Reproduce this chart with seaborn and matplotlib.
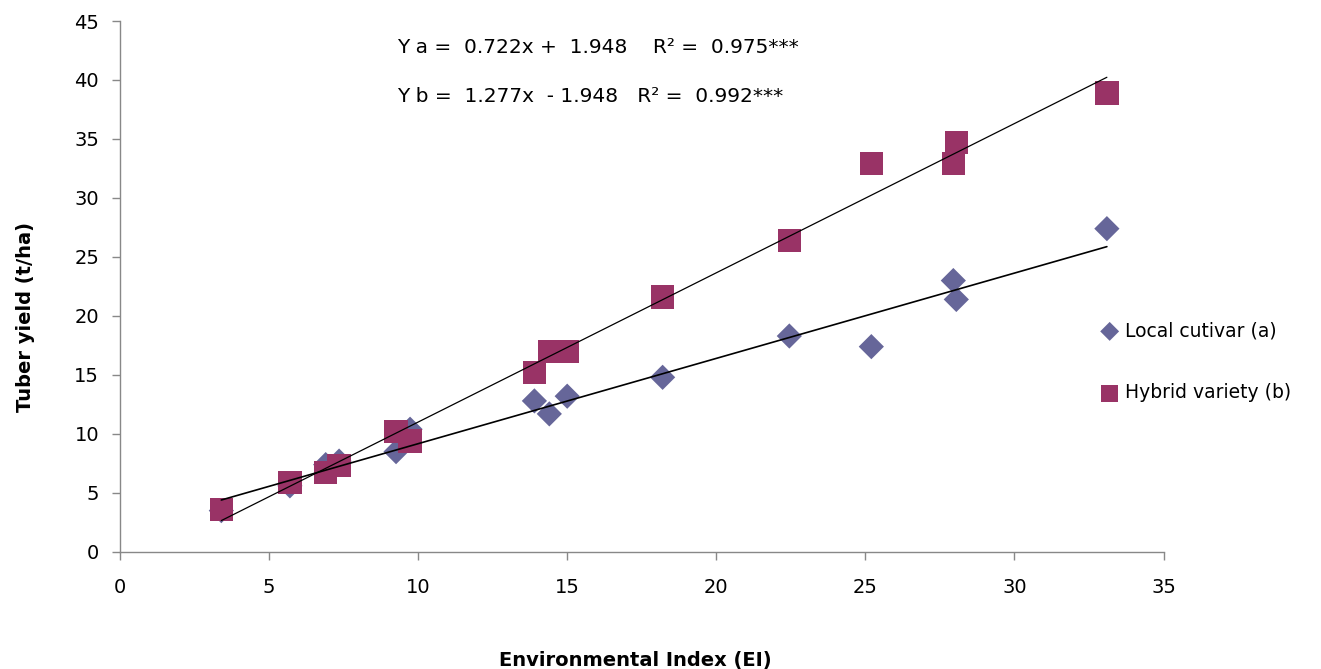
import numpy as np
import pandas as pd
import matplotlib
matplotlib.use("Agg")
import matplotlib.pyplot as plt
import seaborn as sns

# Environmental index (x) for each environment
ei = [3.4, 5.7, 6.9, 7.35, 9.26, 9.73, 13.9, 14.4, 15.0, 18.2, 22.45, 25.2, 27.95, 28.05, 33.1]
# Local cultivar (a) yields
local_yield = [3.5, 5.6, 7.4, 7.7, 8.5, 10.4, 12.8, 11.7, 13.2, 14.8, 18.3, 17.4, 23.0, 21.4, 27.4]
# Hybrid variety (b) yields
hybrid_yield = [3.6, 5.9, 6.7, 7.3, 10.2, 9.4, 15.2, 17.0, 17.0, 21.6, 26.4, 32.9, 32.9, 34.7, 38.9]

series_names = ["Local cutivar (a)", "Hybrid variety (b)"]
eq_texts = ["Y a =  0.722x +  1.948    R\u00b2 =  0.975***",
            "Y b =  1.277x  - 1.948   R\u00b2 =  0.992***"]
x_ticks = [0, 5, 10, 15, 20, 25, 30, 35]
y_ticks = [0, 5, 10, 15, 20, 25, 30, 35, 40, 45]

df = pd.DataFrame({
    "EI": ei + ei,
    "Yield": local_yield + hybrid_yield,
    "Variety": [series_names[0]] * len(ei) + [series_names[1]] * len(ei),
})

sns.set_style("white")
plt.rcParams["font.family"] = ["DejaVu Sans"]
plt.rcParams["text.color"] = "black"
plt.rcParams["axes.labelcolor"] = "black"
plt.rcParams["xtick.color"] = "black"
plt.rcParams["ytick.color"] = "black"

fig = plt.figure(figsize=(13.21, 6.69), dpi=100)
ax = fig.add_axes([0.0908, 0.175, 0.790, 0.7936])

colors = {series_names[0]: "#666699", series_names[1]: "#993366"}

sns.scatterplot(data=df[df.Variety == series_names[0]], x="EI", y="Yield",
                marker="D", s=165, color=colors[series_names[0]], edgecolor="none",
                ax=ax, label=series_names[0], zorder=2)
sns.scatterplot(data=df[df.Variety == series_names[1]], x="EI", y="Yield",
                marker="s", s=280, color=colors[series_names[1]], edgecolor="none",
                ax=ax, label=series_names[1], zorder=3)
sns.regplot(data=df[df.Variety == series_names[0]], x="EI", y="Yield", scatter=False,
            ci=None, truncate=True, ax=ax, line_kws=dict(color="black", lw=1.2, zorder=4))
sns.regplot(data=df[df.Variety == series_names[1]], x="EI", y="Yield", scatter=False,
            ci=None, truncate=True, ax=ax, line_kws=dict(color="black", lw=0.9, zorder=4))

ax.set_xlim(0, 35)
ax.set_ylim(0, 45)
ax.set_xticks(x_ticks)
ax.set_yticks(y_ticks)
ax.tick_params(axis="both", labelsize=14, length=6, width=1, color="#888888",
               labelcolor="black", direction="out", bottom=True, left=True)
ax.tick_params(axis="y", pad=9)
ax.tick_params(axis="x", pad=13)
for s in ["top", "right"]:
    ax.spines[s].set_visible(False)
for s in ["left", "bottom"]:
    ax.spines[s].set_color("#888888")
    ax.spines[s].set_linewidth(1)

ax.set_xlabel("Environmental Index (EI)", fontsize=14, fontweight="bold", color="black")
ax.set_ylabel("Tuber yield (t/ha)", fontsize=14, fontweight="bold", color="black")
ax.xaxis.set_label_coords(0.494, -0.186)
ax.yaxis.set_label_coords(-0.081, 0.443)

ax.text(0.266, 0.951, eq_texts[0], transform=ax.transAxes, fontsize=14.5, va="center",
        ha="left", color="black")
ax.text(0.266, 0.857, eq_texts[1], transform=ax.transAxes, fontsize=14.5, va="center",
        ha="left", color="black")

leg = ax.legend(loc="center left", bbox_to_anchor=(0.934, 0.358), frameon=False,
                fontsize=13.5, labelspacing=2.3, handlelength=0.8, handletextpad=0.4,
                borderaxespad=0, markerscale=0.75, labelcolor="black")

fig.savefig("out.png", dpi=100)
